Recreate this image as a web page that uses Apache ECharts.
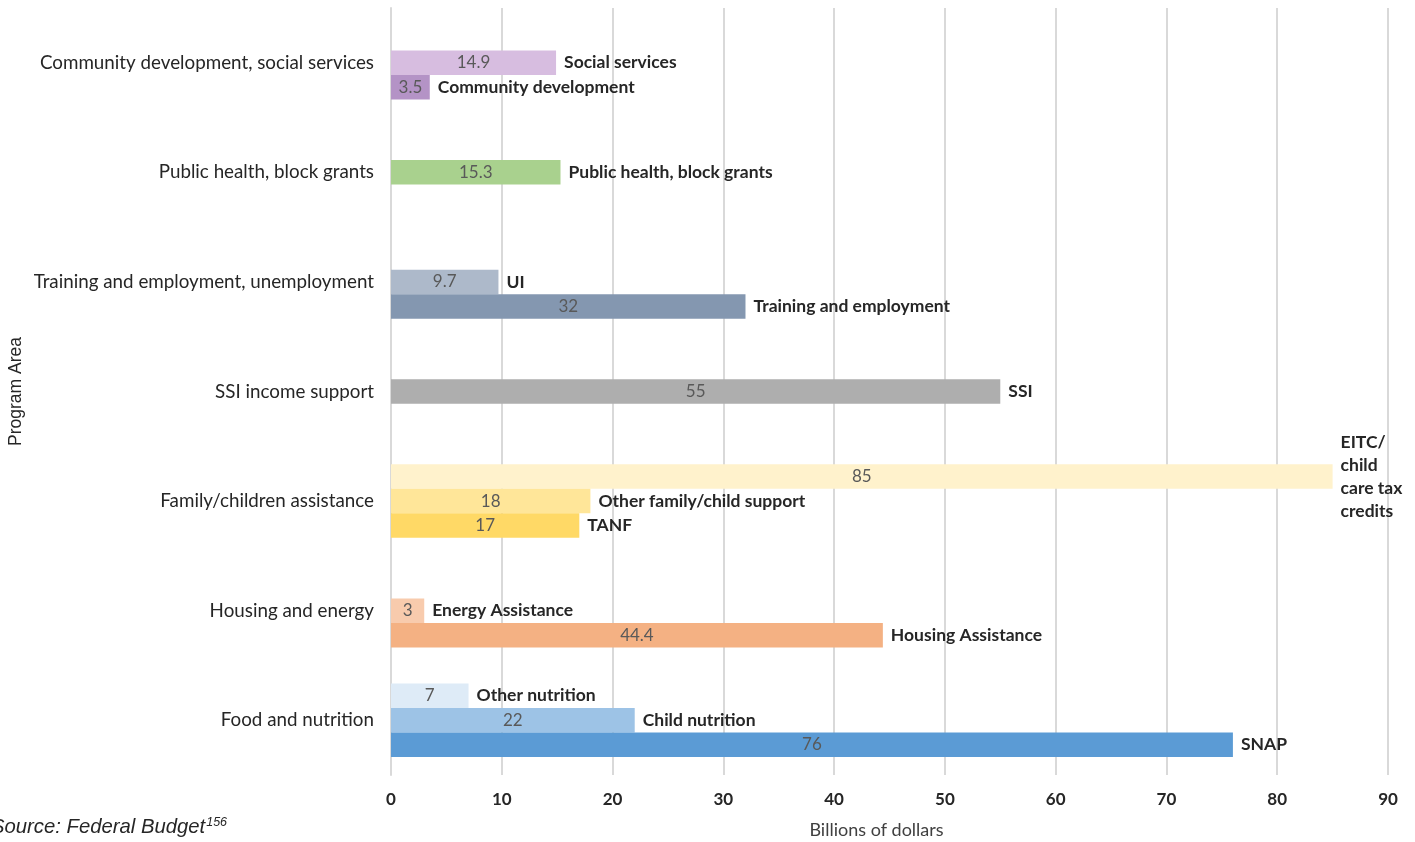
<!DOCTYPE html>
<html>
<head>
<meta charset="utf-8">
<script src="https://cdn.jsdelivr.net/npm/echarts@6/dist/echarts.min.js"></script>
<style>html,body{margin:0;padding:0;background:#fff;}#chart{width:1415px;height:842px;}</style>
</head>
<body>
<div id="chart"></div>
<script>
// Categories listed bottom to top
var categories = ['Food and nutrition', 'Housing and energy', 'Family/children assistance', 'SSI income support', 'Training and employment, unemployment', 'Public health, block grants', 'Community development, social services'];
var xTicks = [0, 10, 20, 30, 40, 50, 60, 70, 80, 90];

// Top slot in each category
var topValues = [7, null, 85, null, null, null, null];
var topNames = ['Other nutrition', '', 'EITC/\nchild\ncare tax\ncredits', '', '', '', ''];
var topColors = ['#deebf7', null, '#fff2cc', null, null, null, null];

// Middle slot
var midValues = [22, 3, 18, 55, 9.7, 15.3, 14.9];
var midNames = ['Child nutrition', 'Energy Assistance', 'Other family/child support', 'SSI', 'UI', 'Public health, block grants', 'Social services'];
var midColors = ['#9dc3e6', '#f8cbad', '#ffe699', '#aeaeae', '#adb9ca', '#a9d18e', '#d7bde0'];

// Bottom slot
var botValues = [76, 44.4, 17, null, 32, null, 3.5];
var botNames = ['SNAP', 'Housing Assistance', 'TANF', '', 'Training and employment', '', 'Community development'];
var botColors = ['#5b9bd5', '#f4b183', '#ffd966', null, '#8497b0', null, '#b493c6'];

var FONT = 'Lato, "Open Sans", sans-serif';
var ARIAL = '"Liberation Sans", Arial, sans-serif';
var BAR_W = 24.5;

function valueSeries(values, colors, stack) {
  return {
    type: 'bar', stack: stack, barWidth: BAR_W, barGap: '0%',
    data: values.map(function (v, i) {
      return v == null ? '-' : { value: v, itemStyle: { color: colors[i] } };
    }),
    label: {
      show: true, position: 'inside', color: '#595959', fontSize: 17, fontFamily: FONT,
      formatter: function (p) { return p.value; }
    },
    emphasis: { disabled: true }, silent: true
  };
}
function nameSeries(values, names, stack) {
  return {
    type: 'bar', stack: stack, barWidth: BAR_W, barGap: '0%',
    data: values.map(function (v, i) { return (v == null || !names[i]) ? '-' : 0; }),
    itemStyle: { color: 'rgba(0,0,0,0)' },
    label: {
      show: true, position: 'right', distance: 8, color: '#262626', fontSize: 17.5, fontWeight: 'bold',
      fontFamily: FONT, lineHeight: 23,
      formatter: function (p) { return names[p.dataIndex]; }
    },
    emphasis: { disabled: true }, silent: true
  };
}

var chart = echarts.init(document.getElementById('chart'));
chart.setOption({
  animation: false,
  backgroundColor: '#ffffff',
  grid: { left: 391, right: 27, top: 8, bottom: 67, containLabel: false, outerBoundsMode: 'none' },
  xAxis: {
    type: 'value', min: 0, max: 90, interval: 10,
    name: 'Billions of dollars', nameLocation: 'middle', nameGap: 46,
    nameTextStyle: { color: '#404040', fontSize: 18, fontFamily: FONT, padding: [0, 26, 0, 0] },
    axisLine: { show: false }, axisTick: { show: false },
    axisLabel: { color: '#262626', fontSize: 17, fontWeight: 'bold', fontFamily: FONT, margin: 16,
      formatter: function (v) { return xTicks.indexOf(v) >= 0 ? String(v) : ''; } },
    splitLine: { show: true, lineStyle: { color: '#d9d9d9', width: 2 } }
  },
  yAxis: {
    type: 'category', data: categories,
    name: 'Program Area', nameLocation: 'middle', nameGap: 366, nameRotate: 90, nameMoveOverlap: false,
    nameTextStyle: { color: '#262626', fontSize: 17.5, fontFamily: ARIAL },
    axisLine: { show: true, lineStyle: { color: '#d9d9d9', width: 2 } },
    axisTick: { show: false },
    axisLabel: { color: '#262626', fontSize: 18.8, fontFamily: FONT, margin: 17 }
  },
  graphic: [{
    type: 'text', left: -9, top: 816,
    style: {
      text: '{a|Source: Federal Budget}{s|156}',
      rich: {
        a: { fontSize: 20.3, fontStyle: 'italic', fontFamily: ARIAL, fill: '#262626' },
        s: { fontSize: 12.5, fontStyle: 'italic', fontFamily: ARIAL, fill: '#262626', verticalAlign: 'top', padding: [0, 0, 9, 1] }
      }
    }
  }],
  series: [
    valueSeries(topValues, topColors, 'top'),
    nameSeries(topValues, topNames, 'top'),
    valueSeries(midValues, midColors, 'mid'),
    nameSeries(midValues, midNames, 'mid'),
    valueSeries(botValues, botColors, 'bot'),
    nameSeries(botValues, botNames, 'bot')
  ]
});
</script>
</body>
</html>
